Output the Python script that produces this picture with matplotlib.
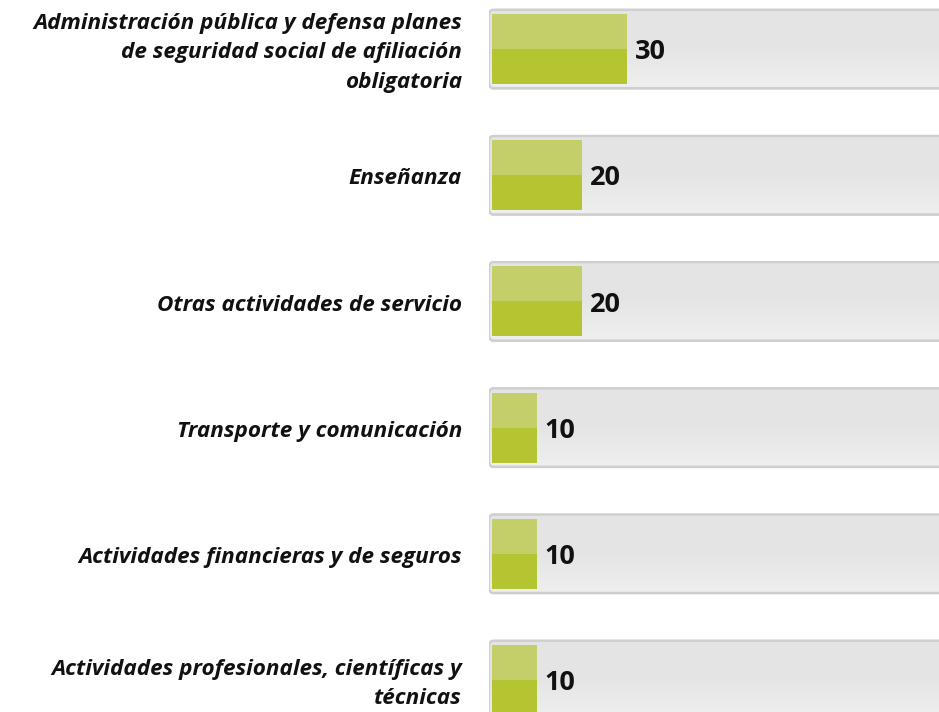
import matplotlib
matplotlib.use("Agg")
import matplotlib.pyplot as plt
import numpy as np
from matplotlib.patches import FancyBboxPatch
import matplotlib.transforms as mtransforms
from matplotlib.colors import LinearSegmentedColormap

categories = [
    "Administración pública y defensa planes\nde seguridad social de afiliación\nobligatoria",
    "Enseñanza",
    "Otras actividades de servicio",
    "Transporte y comunicación",
    "Actividades financieras y de seguros",
    "Actividades profesionales, científicas y\ntécnicas",
]
values = [30, 20, 20, 10, 10, 10]
track_max = 100

W, H = 939, 712
fig = plt.figure(figsize=(W / 100, H / 100), dpi=100)
ax = fig.add_axes([489 / W, 0, 1 - 489 / W, 1])
ax.axis("off")

bar_h = 0.555
track_h = 0.62
light = "#c5cf6a"
dark = "#b5c431"
FONT = ["Open Sans", "DejaVu Sans"]

ypos = np.arange(len(categories))

grad = np.linspace(0, 1, 256).reshape(-1, 1)
cmap = LinearSegmentedColormap.from_list("trk", ["#e5e4e5", "#e6e5e6", "#efefef"])
for y in ypos:
    x0 = -0.6
    shadow = FancyBboxPatch((x0, y - track_h / 2 + 0.012), track_max + 10, track_h,
                            boxstyle="round,pad=0,rounding_size=0.9",
                            mutation_aspect=0.06,
                            facecolor="#d8d8d8", edgecolor="none", zorder=1)
    ax.add_patch(shadow)
    trk = FancyBboxPatch((x0, y - track_h / 2), track_max + 10, track_h,
                         boxstyle="round,pad=0,rounding_size=0.9",
                         mutation_aspect=0.06,
                         facecolor="#e6e5e6", edgecolor="#c9c9c9", linewidth=1.6, zorder=2)
    ax.add_patch(trk)
    im = ax.imshow(grad, extent=(x0, track_max + 10, y + track_h / 2, y - track_h / 2),
                   aspect="auto", cmap=cmap, zorder=2.5, interpolation="bilinear")
    im.set_clip_path(trk)
    inner = FancyBboxPatch((x0, y - track_h / 2), track_max + 10, track_h,
                           boxstyle="round,pad=0,rounding_size=0.9",
                           mutation_aspect=0.06,
                           facecolor="none", edgecolor="#cfcfcf", linewidth=1.6, zorder=2.6)
    ax.add_patch(inner)

ax.set_xlim(-0.6, 99.2)
ax.set_ylim(5.254, -0.388)

ax.barh(ypos - bar_h / 4, values, height=bar_h / 2, left=0, color=light, zorder=3)
ax.barh(ypos + bar_h / 4, values, height=bar_h / 2, left=0, color=dark, zorder=3)

for y, v in zip(ypos, values):
    ax.text(v + 1.7, y + 0.025, str(v), ha="left", va="center", fontsize=19.5,
            fontweight="bold", family=FONT, color="#111111", zorder=4)

trans = mtransforms.blended_transform_factory(ax.transAxes, ax.transData)
for y, c in zip(ypos, categories):
    ax.text((462 - 489) / 450, y + 0.03, c, transform=trans, ha="right", va="center",
            multialignment="right", fontsize=16.2, fontweight="bold", fontstyle="italic",
            family=FONT, color="#111111", linespacing=1.52,
            clip_on=False)

fig.savefig("out.png", dpi=100, facecolor="white")
